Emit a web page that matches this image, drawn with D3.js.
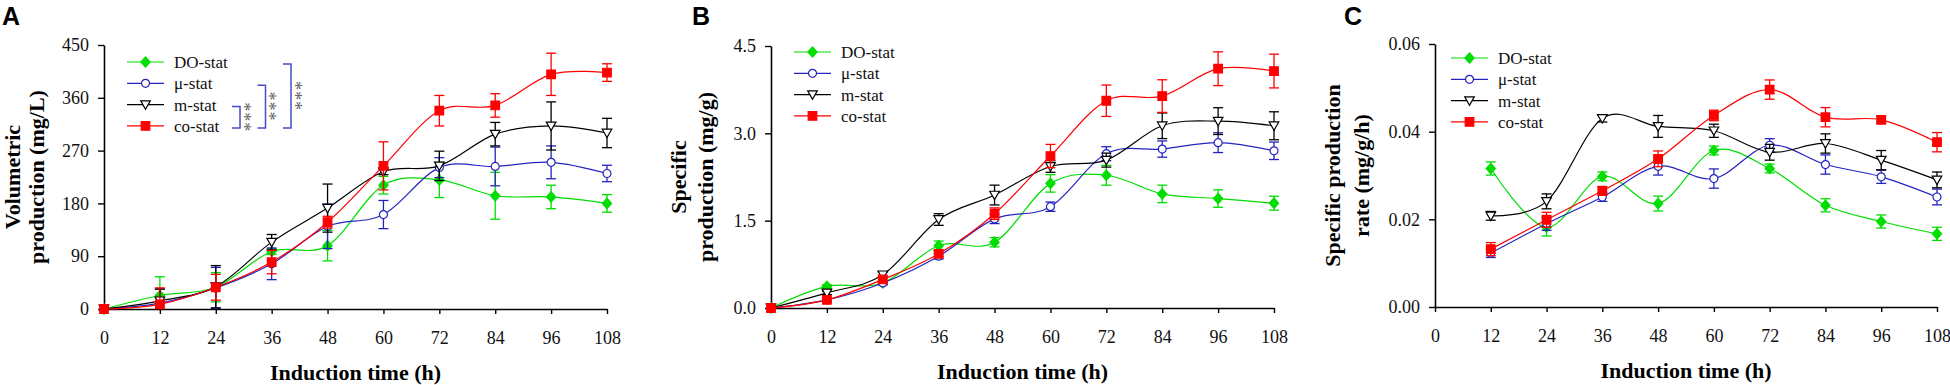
<!DOCTYPE html>
<html>
<head>
<meta charset="utf-8">
<script src="https://cdn.jsdelivr.net/npm/d3@7/dist/d3.min.js"></script>
<style>
  body { margin: 0; background: #fff; }
  svg { display: block; }
</style>
</head>
<body>
<svg id="chart" width="1950" height="385"></svg>
<script>
'use strict';

// ---- data ----
var hours = [0, 12, 24, 36, 48, 60, 72, 84, 96, 108];
var rateHours = [12, 24, 36, 48, 60, 72, 84, 96, 108];
var xTicks = [0, 12, 24, 36, 48, 60, 72, 84, 96, 108];
var seriesNames = ["DO-stat", "\u03bc-stat", "m-stat", "co-stat"];

// A - volumetric production (mg/L)
var volDO = [0, 23, 37, 98, 108, 211, 220, 193, 191, 180];
var volDOErr = [0, 32, 25, 5, 26, 15, 30, 40, 20, 15];
var volMu = [0, 10, 36, 77, 141, 161, 241, 243, 250, 231];
var volMuErr = [0, 24, 35, 27, 38, 24, 17, 33, 28, 14];
var volM = [0, 14, 38, 114, 172, 234, 244, 298, 312, 300];
var volMErr = [0, 20, 36, 13, 41, 5, 25, 20, 41, 25];
var volCo = [0, 8, 37, 80, 148, 244, 338, 347, 400, 403];
var volCoErr = [0, 28, 22, 20, 10, 41, 26, 20, 36, 15];
var volTicks = [0, 90, 180, 270, 360, 450];

// B - specific production (mg/g)
var spDO = [0, 0.37, 0.43, 1.07, 1.13, 2.14, 2.28, 1.96, 1.88, 1.80];
var spDOErr = [0, 0.03, 0.03, 0.08, 0.08, 0.15, 0.17, 0.15, 0.15, 0.12];
var spMu = [0, 0.14, 0.43, 0.89, 1.53, 1.74, 2.65, 2.73, 2.84, 2.70];
var spMuErr = [0, 0.03, 0.03, 0.05, 0.08, 0.08, 0.12, 0.14, 0.17, 0.15];
var spM = [0, 0.26, 0.57, 1.52, 1.94, 2.43, 2.54, 3.13, 3.21, 3.13];
var spMErr = [0, 0.03, 0.05, 0.1, 0.17, 0.1, 0.12, 0.22, 0.23, 0.24];
var spCo = [0, 0.14, 0.49, 0.93, 1.62, 2.61, 3.56, 3.64, 4.11, 4.07];
var spCoErr = [0, 0.03, 0.05, 0.05, 0.1, 0.2, 0.27, 0.28, 0.29, 0.29];
var spTicks = [0, 1.5, 3.0, 4.5];

// C - specific production rate (mg/g/h)
var rtDO = [0.0316, 0.0182, 0.0298, 0.0236, 0.0357, 0.0316, 0.0232, 0.0195, 0.0167];
var rtDOErr = [0.0015, 0.002, 0.001, 0.0017, 0.001, 0.001, 0.0015, 0.0015, 0.0015];
var rtMu = [0.0123, 0.019, 0.0251, 0.0321, 0.0293, 0.0369, 0.0325, 0.0297, 0.0251];
var rtMuErr = [0.001, 0.0015, 0.001, 0.002, 0.0022, 0.0015, 0.0022, 0.0015, 0.0018];
var rtM = [0.0208, 0.0241, 0.043, 0.0412, 0.0402, 0.0353, 0.0373, 0.0335, 0.029];
var rtMErr = [0.001, 0.0017, 0.0008, 0.0025, 0.0015, 0.0018, 0.0022, 0.0022, 0.0018];
var rtCo = [0.0132, 0.0199, 0.0265, 0.0338, 0.0437, 0.0496, 0.0433, 0.0427, 0.0376];
var rtCoErr = [0.0015, 0.0017, 0.001, 0.0018, 0.0012, 0.0022, 0.0022, 0.0008, 0.0022];
var rtTicks = [0, 0.02, 0.04, 0.06];

// ---- styles ----
var serif = "'Liberation Serif', 'Times New Roman', serif";
var sans = "'Liberation Sans', Arial, sans-serif";
var styles = [
	{ color: "#00dd00", shape: "diamond", fill: "#00dd00" },
	{ color: "#2323c0", shape: "circle", fill: "#fff" },
	{ color: "#000", shape: "triangle", fill: "#fff" },
	{ color: "#ff0000", shape: "square", fill: "#ff0000" }
];

function markerPath(shape) {
	if (shape == "diamond") return "M0,-5.2L4.6,0L0,5.2L-4.6,0Z";
	if (shape == "square") return "M-4.3,-4.3h8.6v8.6h-8.6Z";
	if (shape == "triangle") return "M-4.8,-3.8L4.8,-3.8L0,4.6Z";
	return d3.symbol().type(d3.symbolCircle).size(Math.PI * 4 * 4)();
}

var svg = d3.select("#chart");

function buildPanel(p) {
	var x = d3.scaleLinear().domain([0, 108]).range([p.left, p.right]);
	var y = d3.scaleLinear().domain([p.yTicks[0], p.yTicks[p.yTicks.length - 1]]).range([p.bottom, p.top]);
	var g = svg.append("g");

	// axes
	var xAxis = g.append("g")
		.attr("transform", "translate(0," + p.bottom + ")")
		.call(d3.axisBottom(x).tickValues(xTicks).tickSize(5).tickSizeOuter(0).tickPadding(17).tickFormat(d3.format("d")));
	var yAxis = g.append("g")
		.attr("transform", "translate(" + p.left + ",0)")
		.call(d3.axisLeft(y).tickValues(p.yTicks).tickSize(6).tickSizeOuter(0).tickPadding(9).tickFormat(d3.format(p.yFormat)));
	[xAxis, yAxis].forEach(function(a) {
		a.attr("font-family", serif).attr("font-size", 18);
		a.select(".domain").attr("stroke-width", 1.6);
		a.selectAll(".tick line").attr("stroke-width", 1.4);
		a.selectAll(".tick text").attr("fill", "#111");
	});

	// series
	p.series.forEach(function(s, i) {
		var st = styles[i];
		var pts = s.values.map(function(v, k) { return { t: p.times[k], v: v, e: s.errors[k] }; });
		var sg = g.append("g");

		var bars = pts.filter(function(d) { return d.e > 0; });
		var lo = y.domain()[0];
		sg.selectAll("line.err").data(bars).enter().append("line")
			.attr("x1", function(d) { return x(d.t); })
			.attr("x2", function(d) { return x(d.t); })
			.attr("y1", function(d) { return y(Math.max(lo, d.v - d.e)); })
			.attr("y2", function(d) { return y(d.v + d.e); })
			.attr("stroke", st.color).attr("stroke-width", 1.3);
		sg.selectAll("line.capt").data(bars).enter().append("line")
			.attr("x1", function(d) { return x(d.t) - 5; })
			.attr("x2", function(d) { return x(d.t) + 5; })
			.attr("y1", function(d) { return y(d.v + d.e); })
			.attr("y2", function(d) { return y(d.v + d.e); })
			.attr("stroke", st.color).attr("stroke-width", 1.3);
		sg.selectAll("line.capb").data(bars.filter(function(d) { return d.v - d.e > lo; })).enter().append("line")
			.attr("x1", function(d) { return x(d.t) - 5; })
			.attr("x2", function(d) { return x(d.t) + 5; })
			.attr("y1", function(d) { return y(d.v - d.e); })
			.attr("y2", function(d) { return y(d.v - d.e); })
			.attr("stroke", st.color).attr("stroke-width", 1.3);

		var line = d3.line()
			.x(function(d) { return x(d.t); })
			.y(function(d) { return y(d.v); })
			.curve(d3.curveCardinal);
		sg.append("path").datum(pts)
			.attr("d", line)
			.attr("fill", "none")
			.attr("stroke", st.color)
			.attr("stroke-width", 1.2);

		sg.selectAll("path.pt").data(pts).enter().append("path")
			.attr("class", "pt")
			.attr("d", markerPath(st.shape))
			.attr("transform", function(d) { return "translate(" + x(d.t) + "," + y(d.v) + ")"; })
			.attr("fill", st.fill)
			.attr("stroke", st.color)
			.attr("stroke-width", 1.2);
	});

	// legend
	var lg = g.append("g");
	seriesNames.forEach(function(name, i) {
		var st = styles[i];
		var ly = p.legendY + i * 21.3;
		lg.append("line")
			.attr("x1", p.legendX).attr("x2", p.legendX + 37)
			.attr("y1", ly).attr("y2", ly)
			.attr("stroke", st.color).attr("stroke-width", 1.2);
		lg.append("path")
			.attr("d", markerPath(st.shape))
			.attr("transform", "translate(" + (p.legendX + 18.5) + "," + ly + ")")
			.attr("fill", st.fill).attr("stroke", st.color).attr("stroke-width", 1.2);
		lg.append("text")
			.attr("x", p.legendX + 47).attr("y", ly).attr("dy", "0.35em")
			.attr("font-family", serif).attr("font-size", 17).attr("fill", "#111")
			.text(name);
	});

	// significance brackets (panel A only)
	if (p.brackets) {
		p.brackets.forEach(function(b, k) {
			var bx = p.legendX + 113 + k * 25.5;
			var y1 = p.legendY + b[0] * 21.3 + 2, y2 = p.legendY + b[1] * 21.3 + 2;
			g.append("path")
				.attr("d", "M" + (bx - 8) + "," + y1 + "H" + bx + "V" + y2 + "H" + (bx - 8))
				.attr("fill", "none").attr("stroke", "#4a4ac8").attr("stroke-width", 1.5);
			g.append("text")
				.attr("transform", "translate(" + (bx + 9) + "," + ((y1 + y2) / 2) + ") rotate(90)")
				.attr("text-anchor", "middle").attr("dy", "0.62em")
				.attr("font-family", serif).attr("font-size", 18).attr("fill", "#666")
				.attr("letter-spacing", 1)
				.text("***");
		});
	}

	// axis titles
	g.append("text")
		.attr("x", (p.left + p.right) / 2).attr("y", p.bottom + 71)
		.attr("text-anchor", "middle")
		.attr("font-family", serif).attr("font-size", 22).attr("font-weight", "bold")
		.text("Induction time (h)");
	p.yTitle.forEach(function(t, k) {
		g.append("text")
			.attr("transform", "translate(" + (p.left - p.yTitleX[k]) + "," + ((p.top + p.bottom) / 2) + ") rotate(-90)")
			.attr("text-anchor", "middle")
			.attr("font-family", serif).attr("font-size", 22).attr("font-weight", "bold")
			.text(t);
	});

	// panel letter
	g.append("text")
		.attr("x", p.letterX).attr("y", 25)
		.attr("font-family", sans).attr("font-size", 25).attr("font-weight", "bold")
		.text(p.letter);
}

buildPanel({
	letter: "A", letterX: 2,
	left: 104, right: 607, top: 45, bottom: 309,
	times: hours, yTicks: volTicks, yFormat: "d",
	series: [
		{ values: volDO, errors: volDOErr },
		{ values: volMu, errors: volMuErr },
		{ values: volM, errors: volMErr },
		{ values: volCo, errors: volCoErr }
	],
	legendX: 127, legendY: 62,
	brackets: [[2, 3], [1, 3], [0, 3]],
	yTitle: ["Volumetric", "production (mg/L)"], yTitleX: [84, 60]
});

buildPanel({
	letter: "B", letterX: 692,
	left: 771, right: 1274, top: 46, bottom: 308,
	times: hours, yTicks: spTicks, yFormat: ".1f",
	series: [
		{ values: spDO, errors: spDOErr },
		{ values: spMu, errors: spMuErr },
		{ values: spM, errors: spMErr },
		{ values: spCo, errors: spCoErr }
	],
	legendX: 794, legendY: 52,
	yTitle: ["Specific", "production (mg/g)"], yTitleX: [85, 58]
});

buildPanel({
	letter: "C", letterX: 1344,
	left: 1435, right: 1937, top: 44, bottom: 307,
	times: rateHours, yTicks: rtTicks, yFormat: ".2f",
	series: [
		{ values: rtDO, errors: rtDOErr },
		{ values: rtMu, errors: rtMuErr },
		{ values: rtM, errors: rtMErr },
		{ values: rtCo, errors: rtCoErr }
	],
	legendX: 1451, legendY: 58,
	yTitle: ["Specific production", "rate (mg/g/h)"], yTitleX: [95, 66]
});
</script>
</body>
</html>
